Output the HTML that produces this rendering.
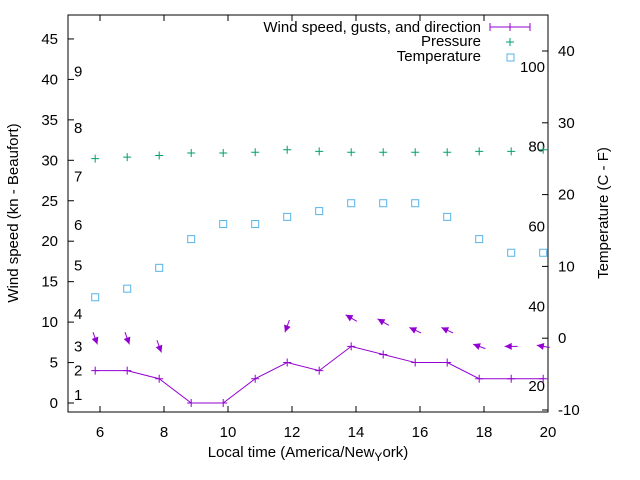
<!DOCTYPE html>
<html><head><meta charset="utf-8"><style>
html,body{margin:0;padding:0;background:#fff;}
svg{display:block;font-family:"Liberation Sans",sans-serif;}
text{fill:#000;font-size:15px;}
</style></head><body>
<svg id="chart" width="640" height="480" viewBox="0 0 640 480" xmlns="http://www.w3.org/2000/svg">
<g id="grid"></g>
<g id="marks"></g>
<text transform="translate(18,213) rotate(-90)" text-anchor="middle">Wind speed (kn - Beaufort)</text>
<text transform="translate(608,213) rotate(-90)" text-anchor="middle">Temperature (C - F)</text>
<text x="308" y="457" text-anchor="middle">Local time (America/New<tspan font-size="12" dy="4">Y</tspan><tspan dy="-4">ork)</tspan></text>
<g>
<text x="481" y="32" text-anchor="end">Wind speed, gusts, and direction</text>
<line x1="490" y1="27" x2="530" y2="27" stroke="#9400d3" stroke-width="1"/>
<line x1="490" y1="23" x2="490" y2="31" stroke="#9400d3"/><line x1="530" y1="23" x2="530" y2="31" stroke="#9400d3"/>
<line x1="510" y1="23" x2="510" y2="31" stroke="#9400d3"/>
<text x="481" y="46" text-anchor="end">Pressure</text>
<path d="M506 42h8M510 38v8" stroke="#009e73" stroke-width="1"/>
<text x="481" y="61" text-anchor="end">Temperature</text>
<rect x="507" y="54" width="7" height="7" fill="none" stroke="#56b4e9"/>
</g>
</svg>
<script>
const times = [5.85,6.85,7.85,8.85,9.85,10.85,11.85,12.85,13.85,14.85,15.85,16.85,17.85,18.85,19.85];
const windSpeed = [4,4,3,0,0,3,5,4,7,6,5,5,3,3,3];
const gustPos = [8,8,7,null,null,null,9.5,null,10.5,10,9,9,7,7,7];
const windDir = [340,340,340,null,null,null,20,null,120,120,115,115,110,90,100];
const pressure = [30.2,30.4,30.6,30.9,30.9,31.0,31.3,31.1,31.0,31.0,31.0,31.0,31.1,31.1,31.3];
const tempC = [5.7,6.9,9.8,13.8,15.9,15.9,16.9,17.7,18.8,18.8,18.8,16.9,13.8,11.9,11.9];
const xTicks = [6,8,10,12,14,16,18,20];
const yTicks = [0,5,10,15,20,25,30,35,40,45];
const y2Ticks = [-10,0,10,20,30,40];
const fTicks = [20,40,60,80,100];
const beaufortLabels = [1,2,3,4,5,6,7,8,9];
const beaufortKn = [1,4,7,11,17,22,28,34,41];

const L=68,R=548,T=15,B=412;
const X=v=>L+(v-5)*32;
const Y=v=>403-v*8.09;
const Y2=c=>410-(c+10)*7.18;
const NS="http://www.w3.org/2000/svg";
const grid=document.getElementById('grid'), marks=document.getElementById('marks');
function mk(tag,attrs,parent,txt){const e=document.createElementNS(NS,tag);for(const k in attrs)e.setAttribute(k,attrs[k]);if(txt!==undefined)e.textContent=txt;parent.appendChild(e);return e;}

const frame=mk('rect',{x:L,y:T,width:R-L,height:B-T,fill:'none',stroke:'#000','stroke-width':1},grid);



xTicks.forEach(v=>{
  mk('line',{x1:X(v),y1:B,x2:X(v),y2:B-6,stroke:'#000'},grid);
  mk('line',{x1:X(v),y1:T,x2:X(v),y2:T+6,stroke:'#000'},grid);
  const t=mk('text',{x:X(v),y:B+25,'text-anchor':'middle'},grid,String(v));
  
  
});
yTicks.forEach(v=>{
  mk('line',{x1:L,y1:Y(v),x2:L+6,y2:Y(v),stroke:'#000'},grid);
  const t=mk('text',{x:L-10,y:Y(v)+5,'text-anchor':'end'},grid,String(v));
  
  
});
y2Ticks.forEach(v=>{
  mk('line',{x1:R,y1:Y2(v),x2:R-6,y2:Y2(v),stroke:'#000'},grid);
  const t=mk('text',{x:R+10,y:Y2(v)+5,'text-anchor':'start'},grid,String(v));
  
  
});
fTicks.forEach(f=>{
  const t=mk('text',{x:R-3,y:Y2((f-32)/1.8)+5,'text-anchor':'end'},grid,String(f));
  
  
});
beaufortLabels.forEach((b,i)=>{
  const t=mk('text',{x:L+6,y:Y(beaufortKn[i])+5,'text-anchor':'start'},grid,String(b));
  
  
});

// wind line
const wl=mk('polyline',{points:times.map((t,i)=>X(t)+','+Y(windSpeed[i])).join(' '),fill:'none',stroke:'#9400d3','stroke-width':1},marks);


times.forEach((t,i)=>{
  const p=mk('path',{d:`M${X(t)-4} ${Y(windSpeed[i])}h8M${X(t)} ${Y(windSpeed[i])-4}v8`,stroke:'#9400d3'},marks);
  
  
});
// direction arrows
times.forEach((t,i)=>{
  if(gustPos[i]===null)return;
  const th=windDir[i]*Math.PI/180, dx=-Math.sin(th), dy=Math.cos(th);
  const cx=X(t), cy=Y(gustPos[i]), len=13;
  const x1=cx-dx*len/2,y1=cy-dy*len/2,x2=cx+dx*len/2,y2=cy+dy*len/2;
  const g=mk('g',{},marks);
  
  
  mk('line',{x1,y1,x2,y2,stroke:'#9400d3','stroke-width':1},g);
  const hx=x2-dx*7,hy=y2-dy*7,px=-dy*3.5,py=dx*3.5;
  mk('polygon',{points:`${x2},${y2} ${hx+px},${hy+py} ${hx-px},${hy-py}`,fill:'#9400d3'},g);
});
// pressure
times.forEach((t,i)=>{
  const p=mk('path',{d:`M${X(t)-4} ${Y(pressure[i])}h8M${X(t)} ${Y(pressure[i])-4}v8`,stroke:'#009e73'},marks);
  
  
});
// temperature
times.forEach((t,i)=>{
  const r=mk('rect',{x:X(t)-3.5,y:Y2(tempC[i])-3.5,width:7,height:7,fill:'none',stroke:'#56b4e9'},marks);
  
  
});
</script>
</body></html>
